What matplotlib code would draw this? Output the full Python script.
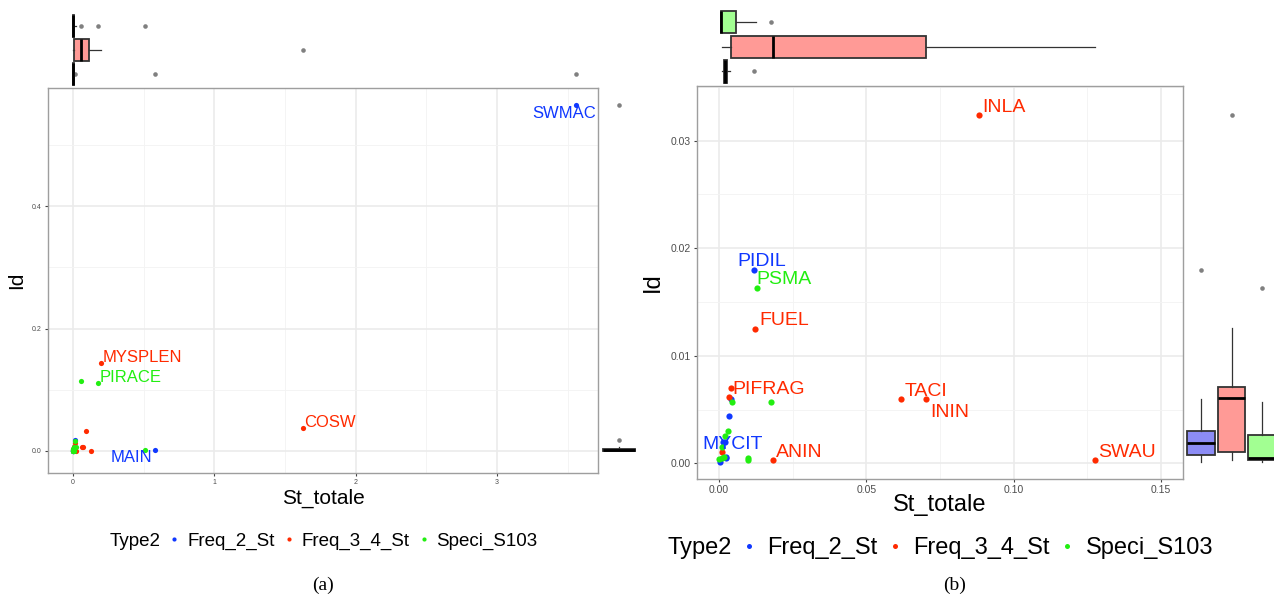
import matplotlib
matplotlib.use('Agg')
import matplotlib.pyplot as plt
from matplotlib.lines import Line2D
from matplotlib.ticker import MultipleLocator, FixedLocator

plt.rcParams['font.family'] = ['Liberation Sans', 'DejaVu Sans']

# ---------------- DATA ----------------
types = ['Freq_2_St', 'Freq_3_4_St', 'Speci_S103']

point_names = ['SWMAC', 'MAIN', 'PIDIL', '', '', 'MYCIT', '', '', '', '',
               'MYSPLEN', 'COSW', 'INLA', 'FUEL', 'PIFRAG', '', 'TACI', 'ININ', 'SWAU', 'ANIN', '',
               'PIRACE', '', '', 'PSMA', '', '', '', '', '', '', '', '', '', '']
point_x = [3.56, 0.577, 0.0118, 0.0040, 0.0035, 0.0021, 0.0013, 0.0025, 0.0023, 0.0004,
           0.200, 1.63, 0.0884, 0.0123, 0.0040, 0.0035, 0.0619, 0.0702, 0.1275, 0.0183, 0.0009,
           0.180, 0.055, 0.507, 0.0128, 0.0044, 0.0177, 0.0029, 0.0020, 0.0009, 0.0099, 0.0099,
           0.0009, 0.0015, 0.0000]
point_y = [0.565, 0.001, 0.0180, 0.0060, 0.0044, 0.0020, 0.0020, 0.0005, 0.0006, 0.00015,
           0.143, 0.037, 0.0324, 0.0125, 0.0070, 0.0062, 0.0060, 0.0060, 0.0003, 0.0003, 0.00105,
           0.111, 0.114, 0.001, 0.0163, 0.0057, 0.0057, 0.0030, 0.0025, 0.0015, 0.0005, 0.0003,
           0.0005, 0.0006, 0.0004]
point_type = ['Freq_2_St'] * 10 + ['Freq_3_4_St'] * 11 + ['Speci_S103'] * 14

labels_a = ['SWMAC', 'MYSPLEN', 'PIRACE', 'COSW', 'MAIN']
labels_b = ['INLA', 'PIDIL', 'PSMA', 'FUEL', 'PIFRAG', 'TACI', 'ININ', 'SWAU', 'ANIN', 'MYCIT']

# marginal boxplot statistics (order: Freq_2_St, Freq_3_4_St, Speci_S103)
a_top_whislo = [0.0, 0.0009, 0.0]
a_top_q1 = [0.0005, 0.0085, 0.0009]
a_top_med = [0.002, 0.060, 0.002]
a_top_q3 = [0.004, 0.110, 0.010]
a_top_whishi = [0.006, 0.200, 0.0177]
a_top_fliers = [[0.0118, 0.577, 3.56], [1.63], [0.055, 0.18, 0.507]]

a_right_whislo = [0.0]
a_right_q1 = [0.0003]
a_right_med = [0.001]
a_right_q3 = [0.003]
a_right_whishi = [0.007]
a_right_fliers = [[0.018, 0.565]]

b_top_whislo = [0.0009, 0.0009, 0.0005]
b_top_q1 = [0.0015, 0.0040, 0.0005]
b_top_med = [0.0020, 0.0183, 0.0008]
b_top_q3 = [0.0028, 0.0703, 0.0059]
b_top_whishi = [0.0036, 0.1275, 0.0127]
b_top_fliers = [[0.0118], [], [0.0177]]

b_right_whislo = [0.00015, 0.00028, 0.0001]
b_right_q1 = [0.00077, 0.00102, 0.00028]
b_right_med = [0.00192, 0.00604, 0.00046]
b_right_q3 = [0.00303, 0.00706, 0.00266]
b_right_whishi = [0.00598, 0.01254, 0.00567]
b_right_fliers = [[0.0180], [0.03235], [0.01625]]

# ---------------- STYLE ----------------
W, H = 1274, 600
point_colors = {'Freq_2_St': '#1038FF', 'Freq_3_4_St': '#FF2A00', 'Speci_S103': '#22EE11'}
box_fills = {'Freq_2_St': '#8C8CF5', 'Freq_3_4_St': '#FF9A96', 'Speci_S103': '#A2FF92'}

# label offsets in pixels: (dx, dy, ha, va)
label_pos_a = {'SWMAC': (20, -1, 'right', 'top'), 'MYSPLEN': (1, 1, 'left', 'baseline'),
               'PIRACE': (1, 1, 'left', 'baseline'), 'COSW': (1, 1, 'left', 'baseline'),
               'MAIN': (-2, 0, 'right', 'top')}
label_pos_b = {'INLA': (3, 3, 'left', 'baseline'), 'PIDIL': (8, 4, 'center', 'baseline'),
               'PSMA': (0, 4, 'left', 'baseline'), 'FUEL': (4, 4, 'left', 'baseline'),
               'PIFRAG': (2, -6, 'left', 'baseline'), 'TACI': (3, 3, 'left', 'baseline'),
               'ININ': (4, -5, 'left', 'top'), 'SWAU': (3.5, 3.5, 'left', 'baseline'),
               'ANIN': (3, 3.5, 'left', 'baseline'), 'MYCIT': (7, -7, 'center', 'baseline')}

fig = plt.figure(figsize=(W / 100, H / 100), dpi=100)


def px_axes(l, t, r, b):
    return fig.add_axes([l / W, 1 - b / H, (r - l) / W, (b - t) / H])


def style_main(ax, xlim, ylim, xmaj, ymaj, xfmt, yfmt, tick_fs):
    ax.set_xlim(*xlim)
    ax.set_ylim(*ylim)
    ax.xaxis.set_major_locator(FixedLocator(xmaj))
    ax.yaxis.set_major_locator(FixedLocator(ymaj))
    ax.xaxis.set_minor_locator(MultipleLocator((xmaj[1] - xmaj[0]) / 2))
    ax.yaxis.set_minor_locator(MultipleLocator((ymaj[1] - ymaj[0]) / 2))
    ax.set_xticklabels([xfmt.format(v) for v in xmaj])
    ax.set_yticklabels([yfmt.format(v) for v in ymaj])
    ax.grid(which='major', color='#EBEBEB', lw=1.2, zorder=0)
    ax.grid(which='minor', color='#F3F3F3', lw=0.6, zorder=0)
    ax.set_axisbelow(True)
    for s in ax.spines.values():
        s.set_color('#9E9E9E')
        s.set_linewidth(1.0)
    ax.tick_params(which='major', length=2.5, width=0.8, color='#444444',
                   labelsize=tick_fs, labelcolor='#4D4D4D', pad=2)
    ax.tick_params(which='minor', length=0)


def draw_points(ax, size, labels, label_pos, label_fs):
    for t in types:
        xs = [x for x, tt in zip(point_x, point_type) if tt == t]
        ys = [y for y, tt in zip(point_y, point_type) if tt == t]
        ax.scatter(xs, ys, s=size, color=point_colors[t], linewidths=0, zorder=3)
    for n, x, y, t in zip(point_names, point_x, point_y, point_type):
        if n in labels:
            dx, dy, ha, va = label_pos[n]
            ax.annotate(n, (x, y), xytext=(dx, dy), textcoords='offset pixels',
                        ha=ha, va=va, color=point_colors[t], fontsize=label_fs,
                        zorder=4, annotation_clip=True)


def draw_box(ax, whislo, q1, med, q3, whishi, fliers, positions, width, horizontal, fills):
    stats = [dict(whislo=a, q1=b, med=c, q3=d, whishi=e, fliers=f)
             for a, b, c, d, e, f in zip(whislo, q1, med, q3, whishi, fliers)]
    kw = dict(positions=positions, widths=width, patch_artist=True, showcaps=False,
              boxprops=dict(edgecolor='#333333', linewidth=1.3),
              medianprops=dict(color='black', linewidth=2.0),
              whiskerprops=dict(color='#333333', linewidth=0.9),
              flierprops=dict(marker='o', markersize=3.3, markerfacecolor='#808080',
                              markeredgecolor='none'))
    try:
        res = ax.bxp(stats, orientation='horizontal' if horizontal else 'vertical', **kw)
    except TypeError:
        res = ax.bxp(stats, vert=not horizontal, **kw)
    for patch, f in zip(res['boxes'], fills):
        patch.set_facecolor(f)
    ax.set_axis_off()


# ================= PANEL (a) =================
A_XLIM = (-0.177, 3.715)
A_YLIM = (-0.036, 0.593)
axA = px_axes(48, 88, 598, 473)
style_main(axA, A_XLIM, A_YLIM, [0, 1, 2, 3], [0.0, 0.2, 0.4], '{:.0f}', '{:.1f}', 5)
draw_points(axA, 14, labels_a, label_pos_a, 12)
axA.set_xlabel('St_totale', fontsize=15)
axA.set_ylabel('Id', fontsize=15)
axA.xaxis.set_label_coords(0.5, (473 - 498) / 385)
axA.xaxis.label.set_va('center')
axA.yaxis.set_label_coords((17 - 48) / 550, 0.5)
axA.yaxis.label.set_va('center')

axAt = px_axes(48, 12, 598, 88)
draw_box(axAt, a_top_whislo, a_top_q1, a_top_med, a_top_q3, a_top_whishi, a_top_fliers,
         [1, 2, 3], 0.9, True, [box_fills[t] for t in types])
axAt.set_xlim(*A_XLIM)
axAt.set_ylim(0.417, 3.583)

axAr = px_axes(598, 88, 640, 473)
draw_box(axAr, a_right_whislo, a_right_q1, a_right_med, a_right_q3, a_right_whishi,
         a_right_fliers, [0.5], 0.76, False, [box_fills['Freq_2_St']])
axAr.set_xlim(0, 1)
axAr.set_ylim(*A_YLIM)

# ================= PANEL (b) =================
B_XLIM = (-0.0075, 0.1575)
B_YLIM = (-0.00146, 0.03507)
axB = px_axes(697, 86, 1183, 479)
style_main(axB, B_XLIM, B_YLIM, [0.0, 0.05, 0.10, 0.15], [0.0, 0.01, 0.02, 0.03],
           '{:.2f}', '{:.2f}', 7.5)
draw_points(axB, 20, labels_b, label_pos_b, 14)
axB.set_xlabel('St_totale', fontsize=17)
axB.set_ylabel('Id', fontsize=17)
axB.xaxis.set_label_coords(0.5, (479 - 505) / 393)
axB.xaxis.label.set_va('center')
axB.yaxis.set_label_coords((653 - 697) / 486, 0.5)
axB.yaxis.label.set_va('center')

axBt = px_axes(697, 4, 1183, 86)
draw_box(axBt, b_top_whislo, b_top_q1, b_top_med, b_top_q3, b_top_whishi, b_top_fliers,
         [1, 2, 3], 0.9, True, [box_fills[t] for t in types])
axBt.set_xlim(*B_XLIM)
axBt.set_ylim(0.414, 3.727)

axBr = px_axes(1183, 86, 1274, 479)
draw_box(axBr, b_right_whislo, b_right_q1, b_right_med, b_right_q3, b_right_whishi,
         b_right_fliers, [1, 2, 3], 0.89, False, [box_fills[t] for t in types])
axBr.set_xlim(0.41, 3.393)
axBr.set_ylim(*B_YLIM)

# ================= LEGENDS =================
def legend_at(x_title, x_leg, y, fs, ms, tpad, cspace):
    fig.text(x_title / W, 1 - y / H, 'Type2', fontsize=fs, ha='left', va='center')
    handles = [Line2D([], [], ls='none', marker='o', ms=ms, color=point_colors[t],
                      markeredgewidth=0) for t in types]
    fig.legend(handles, types, loc='center left', bbox_to_anchor=(x_leg / W, 1 - y / H),
               ncol=3, frameon=False, fontsize=fs, handlelength=0.5, handletextpad=tpad,
               columnspacing=cspace, borderpad=0, borderaxespad=0)


legend_at(110, 169.5, 541, 13.5, 3.0, 0.44, 0.5)
legend_at(668, 743, 548, 17, 3.6, 0.52, 0.5)

fig.text(323 / W, 1 - 585 / H, '(a)', fontsize=14, ha='center', va='center',
         family=['Liberation Serif', 'DejaVu Serif'])
fig.text(955 / W, 1 - 585 / H, '(b)', fontsize=14, ha='center', va='center',
         family=['Liberation Serif', 'DejaVu Serif'])

fig.savefig('out.png', dpi=100, facecolor='white')
